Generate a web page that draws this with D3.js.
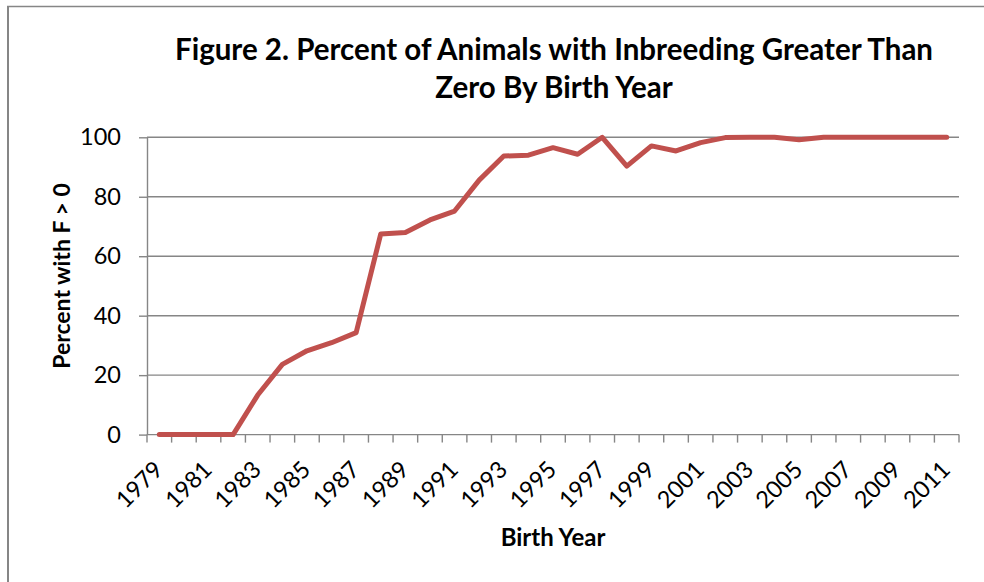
<!DOCTYPE html>
<html>
<head>
<meta charset="utf-8">
<script src="https://cdn.jsdelivr.net/npm/d3@7"></script>
<style>
  html, body { margin: 0; padding: 0; background: #fff; }
  svg { display: block; font-family: Lato, "Open Sans", sans-serif; }
</style>
</head>
<body>
<svg id="chart" width="984" height="582"></svg>
<script>
const titleLines = ["Figure 2. Percent of Animals with Inbreeding Greater Than", "Zero By Birth Year"];
const xTitle = "Birth Year";
const yTitle = "Percent with F > 0";
const years = [1979,1980,1981,1982,1983,1984,1985,1986,1987,1988,1989,1990,1991,1992,1993,1994,1995,
               1996,1997,1998,1999,2000,2001,2002,2003,2004,2005,2006,2007,2008,2009,2010,2011];
const percent = [0,0,0,0,13.3,23.6,28.2,30.9,34.3,67.5,68.0,72.2,75.2,85.6,93.7,94.0,96.5,
                 94.3,100,90.3,97.1,95.4,98.2,99.9,100,100,99.2,100,100,100,100,100,100];
const yTicks = [0,20,40,60,80,100];
const xLabelYears = [1979,1981,1983,1985,1987,1989,1991,1993,1995,1997,1999,2001,2003,2005,2007,2009,2011];

const svg = d3.select("#chart");
const gray = "#868686";

// outer chart border (left/top visible)
svg.append("line").attr("x1",8).attr("x2",8).attr("y1",6).attr("y2",600)
  .attr("stroke",gray).attr("stroke-width",2);
svg.append("line").attr("x1",7).attr("x2",1000).attr("y1",6.5).attr("y2",6.5)
  .attr("stroke",gray).attr("stroke-width",1.3);

const pLeft = 147, pRight = 959, pTop = 137.3, pBottom = 434.6;
const x = d3.scaleBand().domain(years).range([pLeft, pRight]);
const y = d3.scaleLinear().domain([0, 100]).range([pBottom, pTop]);

// gridlines
svg.append("g").selectAll("line").data(yTicks.filter(d => d > 0)).join("line")
  .attr("x1", pLeft).attr("x2", pRight)
  .attr("y1", d => y(d)).attr("y2", d => y(d))
  .attr("stroke", gray).attr("stroke-width", 1.4);

// y axis
const yAxis = svg.append("g").attr("transform", `translate(${pLeft},0)`)
  .call(d3.axisLeft(y).tickValues(yTicks).tickSize(8).tickPadding(18).tickSizeOuter(0));
yAxis.select(".domain").attr("stroke", gray).attr("stroke-width", 1.4);
yAxis.selectAll(".tick line").attr("stroke", gray).attr("stroke-width", 1.4);
yAxis.selectAll(".tick text").attr("font-size", 23.5).attr("fill", "#000")
  .attr("font-family", "Lato, sans-serif");

// x axis
const xAxis = svg.append("g").attr("transform", `translate(0,${pBottom})`);
xAxis.append("line").attr("x1", pLeft).attr("x2", pRight).attr("y1", 0).attr("y2", 0)
  .attr("stroke", gray).attr("stroke-width", 1.4);
const boundaries = years.map(d => x(d)).concat([x.range()[1]]);
xAxis.selectAll("line.tick").data(boundaries).join("line").attr("class","tick")
  .attr("x1", d => d).attr("x2", d => d).attr("y1", 0).attr("y2", 8)
  .attr("stroke", gray).attr("stroke-width", 1.4);
svg.append("g").selectAll("text").data(xLabelYears).join("text")
  .attr("transform", d => `translate(${x(d) + x.bandwidth()/2 + 5},471) rotate(-45)`)
  .attr("text-anchor", "end").attr("font-size", 23.5).attr("fill", "#000")
  .text(d => d);

// line
const line = d3.line().x((d, i) => x(years[i]) + x.bandwidth() / 2).y(d => y(d));
svg.append("path").datum(percent).attr("d", line)
  .attr("fill", "none").attr("stroke", "#C0504D").attr("stroke-width", 5)
  .attr("stroke-linejoin", "round").attr("stroke-linecap", "round");

// titles
svg.append("g").selectAll("text").data(titleLines).join("text")
  .attr("x", 554).attr("y", (d, i) => 60 + i * 38)
  .attr("text-anchor", "middle").attr("font-size", 29.5).attr("font-weight", "bold")
  .text(d => d);

svg.append("text").attr("x", 553).attr("y", 546).attr("text-anchor", "middle")
  .attr("font-size", 24).attr("font-weight", "bold").text(xTitle);

svg.append("text").attr("transform", "translate(70,276) rotate(-90)").attr("text-anchor", "middle")
  .attr("font-size", 23).attr("font-weight", "bold").text(yTitle);
</script>
</body>
</html>
